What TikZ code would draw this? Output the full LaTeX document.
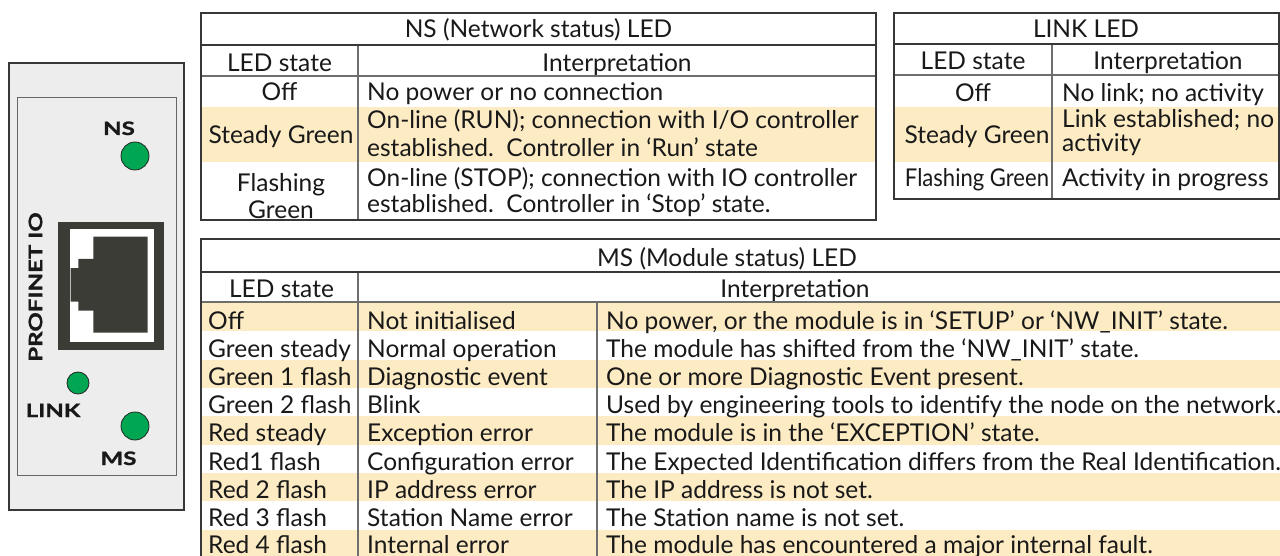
\documentclass[tikz,border=0pt]{standalone}
\usepackage{fontspec}
\setmainfont{Lato}
\newfontfamily\lblfont{Lato}[FakeStretch=1.3, FakeBold=1.2]
\definecolor{rowshade}{RGB}{253,235,196}
\definecolor{panel}{RGB}{237,237,237}
\definecolor{frame}{RGB}{55,55,55}
\definecolor{grid}{RGB}{110,110,110}
\definecolor{ledgreen}{RGB}{0,166,81}
\definecolor{jack}{RGB}{60,60,55}
\begin{document}
\begin{tikzpicture}[x=1pt,y=-1pt,
  txt/.style={font=\fontsize{24.5}{29}\selectfont, inner sep=0pt, text=black!90},
  lft/.style={txt, anchor=base west},
  ctr/.style={txt, anchor=base},
  lbl/.style={font=\lblfont\fontsize{18.5}{22}\selectfont\bfseries, inner sep=0pt, text=black!90, anchor=base},
  led/.style={circle, draw=black!85, line width=0.8pt, fill=ledgreen, inner sep=0pt},
  outer/.style={draw=frame, line width=1.8pt},
  inner/.style={draw=grid, line width=1.1pt}]
\useasboundingbox (0,0) rectangle (1280,556);

% ---------- device panel ----------
\draw[fill=panel, draw=frame, line width=1.6pt] (9,63) rectangle (184,510);
\draw[draw=black!60, line width=0.9pt] (17,97) rectangle (176,475);
\node[lbl] (nslbl) at (119,135) {NS};
\node[led, minimum size=28pt] (nsled) at (135,156) {};
\fill[jack] (58,222) rectangle (164,350);
\fill[white] (70,229) rectangle (154,341.7);
\fill[jack] (93.3,236.7) -- (147.7,236.7) -- (147.7,332.7) -- (93.3,332.7) -- (93.3,310.7)
  -- (78.3,310.7) -- (78.3,301.7) -- (70.7,301.7) -- (70.7,268) -- (78.3,268)
  -- (78.3,259) -- (93.3,259) -- cycle;
\node[lbl, rotate=90, anchor=center] (pio) at (35.5,287) {PROFINET IO};
\node[led, minimum size=22pt] (linkled) at (78,383) {};
\node[lbl] (linklbl) at (53,417) {LINK};
\node[led, minimum size=28pt] (msled) at (135,426) {};
\node[lbl] (mslbl) at (118.5,465) {MS};

% ---------- NS table ----------
\fill[white] (201,13) rectangle (876,220);
\fill[rowshade] (201,107) rectangle (876,162);
\node[ctr] (nst) at (538.5,38) {NS (Network status) LED};
\node[ctr] (nsh1) at (279.5,72) {LED state};
\node[ctr] (nsh2) at (617,72) {Interpretation};
\node[ctr] (ns1a) at (279.5,101) {Off};
\node[lft] (ns1b) at (367,101) {No power or no connection};
\node[ctr] (ns2a) at (281,144) {Steady Green};
\node[lft] (ns2b) at (367,129) {On-line (RUN); connection with I/O controller};
\node[lft] (ns2c) at (367,157) {established.\ \ Controller in ‘Run’ state};
\node[ctr] (ns3a) at (281,192) {Flashing};
\node[ctr] (ns3b) at (281,219) {Green};
\node[lft] (ns3c) at (367,187) {On-line (STOP); connection with IO controller};
\node[lft] (ns3d) at (367,213) {established.\ \ Controller in ‘Stop’ state.};
\draw[inner] (201,76) -- (876,76);
\draw[inner] (358,45) -- (358,220);
\draw[outer] (201,45) -- (876,45);
\draw[outer] (201,13) rectangle (876,220);

% ---------- LINK table ----------
\fill[white] (894,13) rectangle (1279,199);
\fill[rowshade] (894,107) rectangle (1279,162);
\node[ctr] (lkt) at (1086,38) {LINK LED};
\node[ctr] (lkh1) at (973,70) {LED state};
\node[ctr] (lkh2) at (1168,70) {Interpretation};
\node[ctr] (lk1a) at (973,102) {Off};
\node[lft] (lk1b) at (1062,102) {No link; no activity};
\node[ctr] (lk2a) at (977,144) {Steady Green};
\node[lft] (lk2b) at (1062,128) {Link established; no};
\node[lft] (lk2c) at (1062,152) {activity};
\node[ctr, xscale=0.9] (lk3a) at (977,187) {Flashing Green};
\node[lft] (lk3b) at (1062,187) {Activity in progress};
\draw[inner] (894,75) -- (1279,75);
\draw[inner] (1052,44) -- (1052,199);
\draw[outer] (894,44) -- (1279,44);
\draw[outer] (894,13) rectangle (1279,199);

% ---------- MS table ----------
\fill[white] (201,239) rectangle (1290,570);
\fill[rowshade] (201,302.7) rectangle (1290,331);
\fill[rowshade] (201,359.5) rectangle (1290,388);
\fill[rowshade] (201,416.2) rectangle (1290,444.6);
\fill[rowshade] (201,473) rectangle (1290,501.3);
\fill[rowshade] (201,529.8) rectangle (1290,570);
\node[ctr] (mst) at (727,266) {MS (Module status) LED};
\node[ctr] (msh1) at (281.5,297) {LED state};
\node[ctr] (msh2) at (795,297) {Interpretation};

\node[lft] (m1a) at (208,329.0) {Off};
\node[lft] (m1b) at (367,329.0) {Not initialised};
\node[lft] (m1c) at (606,329.0) {No power, or the module is in ‘SETUP’ or ‘NW\_INIT’ state.};
\node[lft] (m2a) at (208,357.2) {Green steady};
\node[lft] (m2b) at (367,357.2) {Normal operation};
\node[lft] (m2c) at (606,357.2) {The module has shifted from the ‘NW\_INIT’ state.};
\node[lft] (m3a) at (208,385.4) {Green 1 flash};
\node[lft] (m3b) at (367,385.4) {Diagnostic event};
\node[lft] (m3c) at (606,385.4) {One or more Diagnostic Event present.};
\node[lft] (m4a) at (208,413.6) {Green 2 flash};
\node[lft] (m4b) at (367,413.6) {Blink};
\node[lft] (m4c) at (606,413.6) {Used by engineering tools to identify the node on the network.};
\node[lft] (m5a) at (208,441.8) {Red steady};
\node[lft] (m5b) at (367,441.8) {Exception error};
\node[lft] (m5c) at (606,441.8) {The module is in the ‘EXCEPTION’ state.};
\node[lft] (m6a) at (208,470.0) {Red1 flash};
\node[lft] (m6b) at (367,470.0) {Configuration error};
\node[lft] (m6c) at (606,470.0) {The Expected Identification differs from the Real Identification.};
\node[lft] (m7a) at (208,498.2) {Red 2 flash};
\node[lft] (m7b) at (367,498.2) {IP address error};
\node[lft] (m7c) at (606,498.2) {The IP address is not set.};
\node[lft] (m8a) at (208,526.4) {Red 3 flash};
\node[lft] (m8b) at (367,526.4) {Station Name error};
\node[lft] (m8c) at (606,526.4) {The Station name is not set.};
\node[lft] (m9a) at (208,553.8) {Red 4 flash};
\node[lft] (m9b) at (367,553.8) {Internal error};
\node[lft] (m9c) at (606,553.8) {The module has encountered a major internal fault.};

\draw[inner] (201,302) -- (1290,302);
\draw[inner] (358,272) -- (358,570);
\draw[inner] (597,302) -- (597,570);
\draw[outer] (201,272) -- (1290,272);
\draw[outer] (201,570) -- (201,239) -- (1290,239);
\end{tikzpicture}
\end{document}
